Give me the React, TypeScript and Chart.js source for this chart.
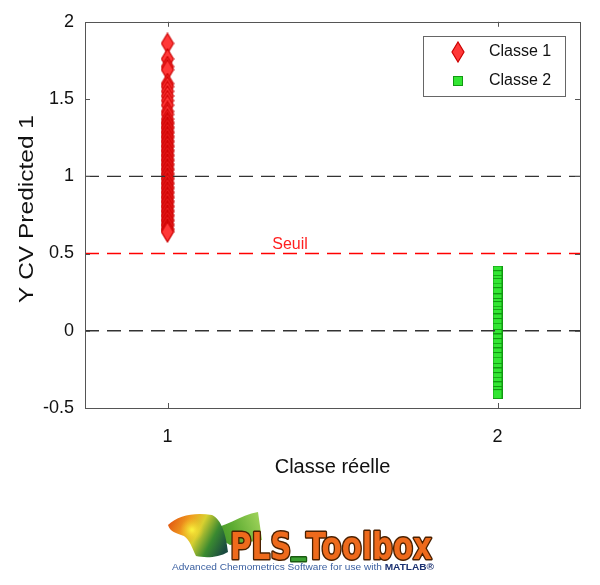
import React, { useEffect, useRef } from "react";
import { Chart, registerables } from "chart.js";

Chart.register(...registerables);

const class1Label = "Classe 1";
const class2Label = "Classe 2";
const class1Values = [
  1.86, 1.76, 1.71, 1.69, 1.6, 1.58, 1.55, 1.52, 1.49, 1.46, 1.42, 1.4, 1.37,
  1.35, 1.34, 1.32, 1.31, 1.29, 1.28, 1.26, 1.25, 1.23, 1.22, 1.2, 1.19, 1.17,
  1.16, 1.14, 1.13, 1.11, 1.1, 1.08, 1.07, 1.05, 1.04, 1.02, 1.01, 0.99, 0.98,
  0.96, 0.95, 0.93, 0.92, 0.9, 0.89, 0.87, 0.86, 0.84, 0.83, 0.81, 0.8, 0.78,
  0.77, 0.75, 0.74, 0.72, 0.71, 0.69, 0.68, 0.66, 0.65, 0.64,
];
const class2Values = [
  0.39, 0.36, 0.33, 0.31, 0.28, 0.25, 0.21, 0.18, 0.16, 0.13, 0.11, 0.08, 0.05,
  0.02, -0.02, -0.05, -0.08, -0.11, -0.14, -0.17, -0.2, -0.24, -0.27, -0.3,
  -0.33, -0.36, -0.39, -0.41,
];
const yTicks = [-0.5, 0, 0.5, 1, 1.5, 2];
const xTicks = [1, 2];
const refLines = [0, 1];
const thresholdValue = 0.5;
const thresholdLabel = "Seuil";
const xTitle = "Classe réelle";
const yTitle = "Y CV Predicted 1";

const FONT = "'Liberation Sans', Arial, sans-serif";

function makeDiamond(w: number, h: number, fill: string, stroke: string) {
  const c = document.createElement("canvas");
  c.width = w + 2;
  c.height = h + 2;
  const g = c.getContext("2d")!;
  g.beginPath();
  g.moveTo(c.width / 2, 1);
  g.lineTo(c.width - 1, c.height / 2);
  g.lineTo(c.width / 2, c.height - 1);
  g.lineTo(1, c.height / 2);
  g.closePath();
  g.fillStyle = fill;
  g.fill();
  g.strokeStyle = stroke;
  g.lineWidth = 1.2;
  g.stroke();
  return c;
}

function makeSquare(s: number, fill: string, stroke: string) {
  const c = document.createElement("canvas");
  c.width = s;
  c.height = s;
  const g = c.getContext("2d")!;
  g.fillStyle = fill;
  g.fillRect(0, 0, s, s);
  g.strokeStyle = stroke;
  g.lineWidth = 1;
  g.strokeRect(0.5, 0.5, s - 1, s - 1);
  return c;
}

function drawLogo(ctx: CanvasRenderingContext2D) {
  ctx.save();
  const gw = ctx.createLinearGradient(200, 540, 262, 512);
  gw.addColorStop(0, "#2f7f25");
  gw.addColorStop(0.5, "#5aaa30");
  gw.addColorStop(1, "#a8d860");
  ctx.beginPath();
  ctx.moveTo(205, 530);
  ctx.bezierCurveTo(225, 528, 240, 515, 258, 512);
  ctx.lineTo(262, 540);
  ctx.lineTo(230, 545);
  ctx.closePath();
  ctx.fillStyle = gw;
  ctx.fill();
  const gl = ctx.createLinearGradient(168, 520, 225, 550);
  gl.addColorStop(0, "#e05010");
  gl.addColorStop(0.3, "#f0a020");
  gl.addColorStop(0.5, "#d8d030");
  gl.addColorStop(0.75, "#3a8a30");
  gl.addColorStop(1, "#1a4a40");
  ctx.beginPath();
  ctx.moveTo(168, 525);
  ctx.bezierCurveTo(178, 515, 195, 512, 212, 515);
  ctx.bezierCurveTo(222, 520, 226, 535, 228, 552);
  ctx.bezierCurveTo(218, 558, 205, 558, 196, 556);
  ctx.bezierCurveTo(192, 548, 190, 540, 184, 536);
  ctx.bezierCurveTo(176, 533, 170, 532, 168, 525);
  ctx.closePath();
  ctx.fillStyle = gl;
  ctx.fill();
  const gy = ctx.createRadialGradient(192, 530, 1, 192, 530, 12);
  gy.addColorStop(0, "rgba(250,240,60,0.95)");
  gy.addColorStop(1, "rgba(240,200,40,0)");
  ctx.fillStyle = gy;
  ctx.fill();

  ctx.font = `bold 38px 'DejaVu Sans Condensed', 'Liberation Sans', sans-serif`;
  const parts = ["PLS", "_", "Toolbox"];
  const full = parts.join("");
  const tw = ctx.measureText(full).width;
  ctx.translate(230, 559);
  ctx.scale(202 / tw, 1);
  ctx.lineJoin = "round";
  ctx.lineWidth = 3;
  let x = 0;
  for (const p of parts) {
    const dy = p === "_" ? -7 : 0;
    ctx.strokeStyle = p === "_" ? "#1a5a10" : "#4a2000";
    ctx.fillStyle = p === "_" ? "#3aa030" : "#ee6a1c";
    ctx.strokeText(p, x, dy);
    ctx.fillText(p, x, dy);
    x += ctx.measureText(p).width;
  }
  ctx.restore();

  ctx.save();
  ctx.font = `9px 'Liberation Sans', Arial, sans-serif`;
  const sub = "Advanced Chemometrics Software for use with ";
  const sw = ctx.measureText(sub).width;
  ctx.font = `bold 9px 'Liberation Sans', Arial, sans-serif`;
  const mw = ctx.measureText("MATLAB®").width;
  ctx.translate(172, 570);
  ctx.scale(262 / (sw + mw), 1);
  ctx.font = `9px 'Liberation Sans', Arial, sans-serif`;
  ctx.fillStyle = "#3a5fa0";
  ctx.fillText(sub, 0, 0);
  ctx.font = `bold 9px 'Liberation Sans', Arial, sans-serif`;
  ctx.fillStyle = "#1a3070";
  ctx.fillText("MATLAB®", sw, 0);
  ctx.restore();
}

export default function App() {
  const ref = useRef<HTMLCanvasElement>(null);
  useEffect(() => {
    document.body.style.margin = "0";
    const diamond = makeDiamond(12, 20, "#ff3838", "#cc0000");
    const square = makeSquare(10, "#33e633", "#119911");

    const framePlugin = {
      id: "frame",
      afterDatasetsDraw(chart: any) {
        const { ctx, chartArea: a, scales } = chart;
        ctx.save();
        ctx.strokeStyle = "#555";
        ctx.lineWidth = 1;
        ctx.strokeRect(Math.round(a.left) + 0.5, Math.round(a.top) + 0.5, Math.round(a.right - a.left), Math.round(a.bottom - a.top));
        const tl = 5;
        ctx.beginPath();
        for (const v of yTicks) {
          const y = Math.round(scales.y.getPixelForValue(v)) + 0.5;
          ctx.moveTo(a.left, y);
          ctx.lineTo(a.left + tl, y);
          ctx.moveTo(a.right, y);
          ctx.lineTo(a.right - tl, y);
        }
        for (const v of xTicks) {
          const x = Math.round(scales.x.getPixelForValue(v)) + 0.5;
          ctx.moveTo(x, a.bottom);
          ctx.lineTo(x, a.bottom - tl);
          ctx.moveTo(x, a.top);
          ctx.lineTo(x, a.top + tl);
        }
        ctx.stroke();

        ctx.fillStyle = "#ff2020";
        ctx.font = `16px ${FONT}`;
        ctx.textAlign = "center";
        ctx.textBaseline = "bottom";
        ctx.fillText(thresholdLabel, 290, scales.y.getPixelForValue(thresholdValue) - 1);

        ctx.fillStyle = "#111";
        ctx.font = `20px ${FONT}`;
        ctx.textBaseline = "middle";
        ctx.fillText(xTitle, (a.left + a.right) / 2, 467);
        ctx.save();
        ctx.font = `21px ${FONT}`;
        const yw = ctx.measureText(yTitle).width;
        ctx.translate(27, 209);
        ctx.rotate(-Math.PI / 2);
        ctx.scale(188 / yw, 1);
        ctx.fillText(yTitle, 0, 0);
        ctx.restore();

        const lx = 423, ly = 36, lw = 142, lh = 60;
        ctx.fillStyle = "#fff";
        ctx.fillRect(lx, ly, lw, lh);
        ctx.strokeStyle = "#666";
        ctx.strokeRect(lx + 0.5, ly + 0.5, lw, lh);
        ctx.drawImage(diamond, 458 - diamond.width / 2, 52 - diamond.height / 2);
        ctx.drawImage(square, 458 - square.width / 2, 81 - square.height / 2);
        ctx.fillStyle = "#111";
        ctx.font = `16px ${FONT}`;
        ctx.textAlign = "left";
        ctx.fillText(class1Label, 489, 52);
        ctx.fillText(class2Label, 489, 81);
        ctx.restore();

        drawLogo(ctx);
      },
    };

    const lineData = (v: number) => [
      { x: 0.75, y: v },
      { x: 2.25, y: v },
    ];

    const lineDs = (label: string, v: number, color: string, w: number) => ({
      label,
      data: lineData(v),
      showLine: true,
      borderColor: color,
      backgroundColor: color,
      borderWidth: w,
      borderDash: [14, 8],
      pointRadius: 0,
      pointHoverRadius: 0,
    });

    const chart = new Chart(ref.current!, {
      type: "scatter",
      data: {
        datasets: [
          ...refLines.map((v) => lineDs("ref" + v, v, "#333333", 1.3)),
          lineDs(thresholdLabel, thresholdValue, "#ff0000", 1.5),
          {
            label: class1Label,
            data: class1Values.map((v) => ({ x: 1, y: v })),
            pointStyle: diamond,
          },
          {
            label: class2Label,
            data: class2Values.map((v) => ({ x: 2, y: v })),
            pointStyle: square,
          },
        ],
      },
      options: {
        animation: false,
        responsive: false,
        maintainAspectRatio: false,
        layout: { padding: { top: 18, right: 20, left: 0, bottom: 0 } },
        plugins: { legend: { display: false }, tooltip: { enabled: false } },
        scales: {
          x: {
            type: "linear",
            min: 0.75,
            max: 2.25,
            afterBuildTicks: (s: any) => {
              s.ticks = xTicks.map((v) => ({ value: v }));
            },
            afterFit: (s: any) => {
              s.height = 177;
            },
            grid: { display: false, drawTicks: false },
            border: { display: false },
            ticks: {
              padding: 18,
              color: "#111",
              font: { family: FONT, size: 18 },
              callback: (v: any) => String(v),
            },
          },
          y: {
            min: -0.5,
            max: 2,
            afterBuildTicks: (s: any) => {
              s.ticks = yTicks.map((v) => ({ value: v }));
            },
            afterFit: (s: any) => {
              s.width = 85;
            },
            grid: { display: false, drawTicks: false },
            border: { display: false },
            ticks: {
              padding: 11,
              color: "#111",
              font: { family: FONT, size: 18 },
              callback: (v: any) => String(v),
            },
          },
        },
      },
      plugins: [framePlugin],
    });
    return () => chart.destroy();
  }, []);
  return (
    <div style={{ position: "fixed", left: 0, top: 0, width: 600, height: 585, background: "#fff" }}>
      <canvas ref={ref} width={600} height={585} />
    </div>
  );
}
